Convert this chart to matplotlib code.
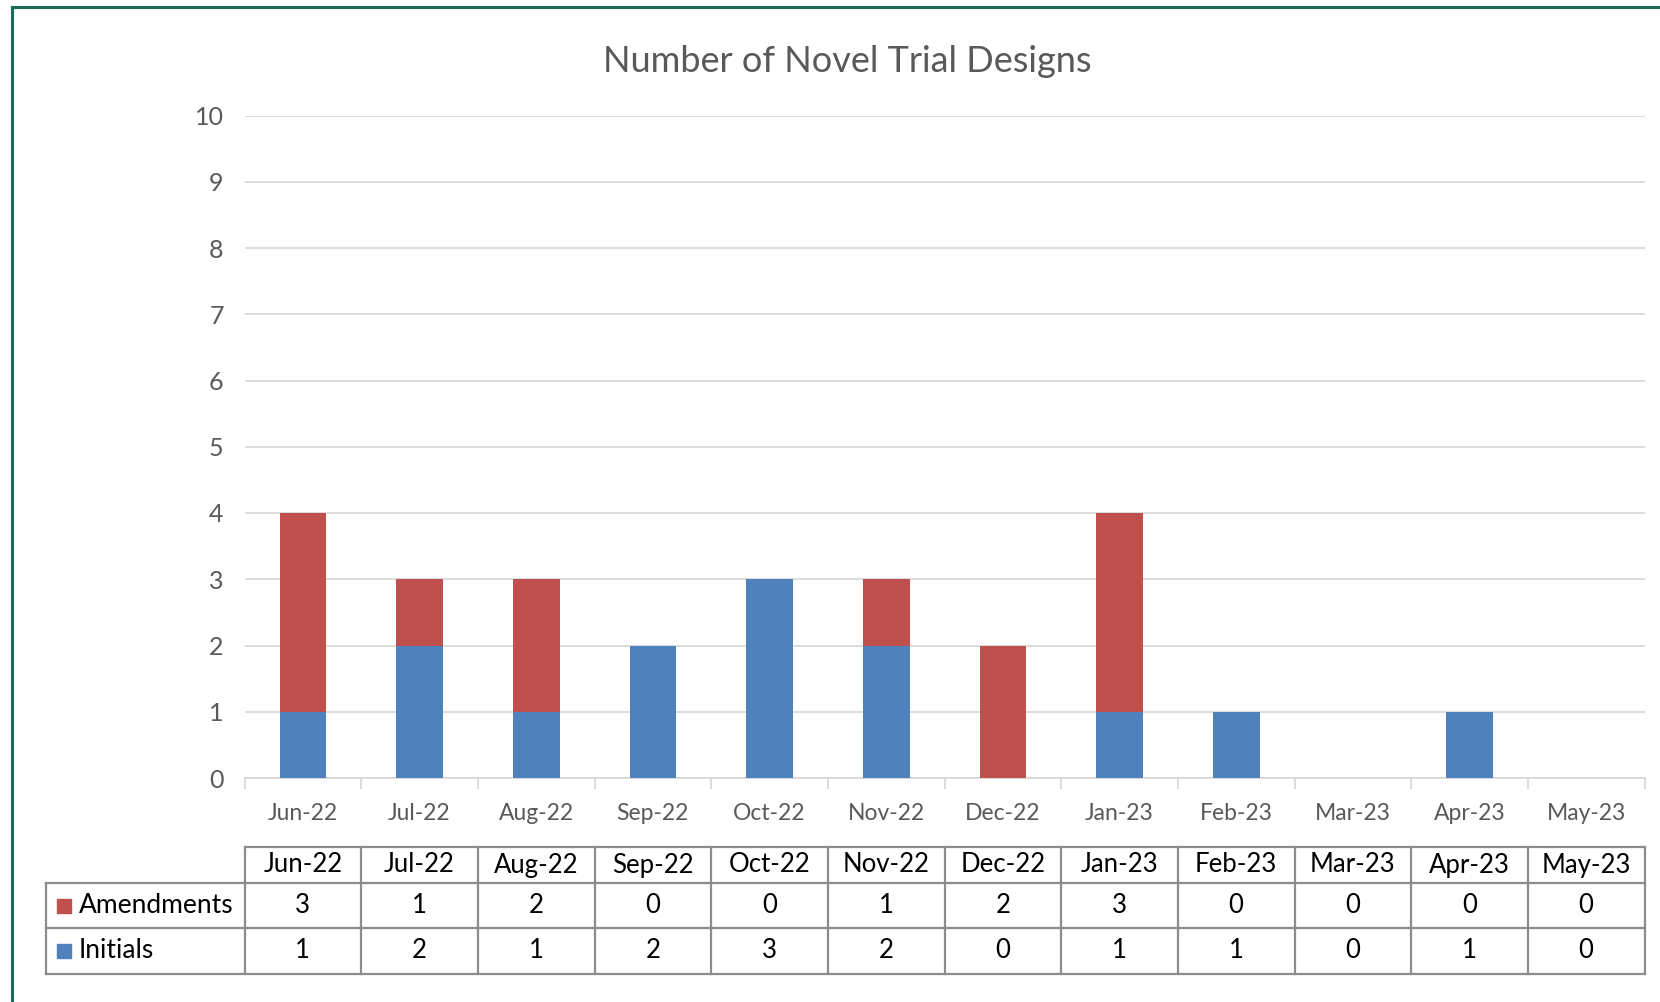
import numpy as np
import matplotlib.pyplot as plt
from matplotlib.lines import Line2D
from matplotlib.patches import Rectangle
import matplotlib.transforms as mtransforms

months = ["Jun-22", "Jul-22", "Aug-22", "Sep-22", "Oct-22", "Nov-22",
          "Dec-22", "Jan-23", "Feb-23", "Mar-23", "Apr-23", "May-23"]
initials = [1, 2, 1, 2, 3, 2, 0, 1, 1, 0, 1, 0]
amendments = [3, 1, 2, 0, 0, 1, 2, 3, 0, 0, 0, 0]
series_names = ["Amendments", "Initials"]

TITLE = "Number of Novel Trial Designs"
RED = "#C0504D"
BLUE = "#4F81BD"
GRID = "#D9D9D9"
TEXT_GREY = "#595959"
TABLE_LINE = "#8C8C8C"
FRAME = "#1B6B58"

plt.rcParams["font.family"] = ["Lato", "DejaVu Sans"]

W, H = 1660, 1002
fig = plt.figure(figsize=(W / 100, H / 100), dpi=100)
fig.patch.set_facecolor("white")


def fx(px):
    return px / W


def fy(py):
    # pixel y from top -> figure fraction
    return 1 - py / H


ax_left, ax_right = 244.5, 1644.5
ax_top, ax_bottom = 115.5, 778
ax = fig.add_axes([fx(ax_left), fy(ax_bottom), fx(ax_right - ax_left), fy(ax_top) - fy(ax_bottom)])

x = np.arange(len(months))
ax.bar(x, initials, width=0.4, color=BLUE, zorder=3)
ax.bar(x, amendments, width=0.4, bottom=initials, color=RED, zorder=3)

ax.set_xlim(-0.5, len(months) - 0.5)
ax.set_ylim(0, 10)
ax.set_yticks(range(0, 11))
ax.yaxis.grid(True, color=GRID, lw=1.3, zorder=0)
ax.set_axisbelow(True)
for side in ["left", "right", "top"]:
    ax.spines[side].set_visible(False)
ax.spines["bottom"].set_color(GRID)
ax.spines["bottom"].set_linewidth(1.3)
ax.tick_params(axis="y", length=0, pad=15, labelsize=18, labelcolor=TEXT_GREY)
ax.set_xticks(x)
ax.set_xticklabels(months)
ax.tick_params(axis="x", length=0, pad=18, labelsize=16.5, labelcolor=TEXT_GREY)
# category separator ticks
ax.set_xticks(np.arange(len(months) + 1) - 0.5, minor=True)
ax.tick_params(axis="x", which="minor", length=8, width=1.3, color=GRID, direction="out")

fig.text(fx(847), fy(61), TITLE, ha="center", va="center", fontsize=26, color=TEXT_GREY)

# data table under the chart
trans = mtransforms.blended_transform_factory(ax.transData, fig.transFigure)
row_edges = [847, 883, 928, 974]
label_left = 45.7
lw = 1.6

rows = [amendments, initials]
colors = [RED, BLUE]

# horizontal lines
fig.add_artist(Line2D([fx(ax_left), fx(ax_right)], [fy(row_edges[0])] * 2, color=TABLE_LINE, lw=lw))
for ry in row_edges[1:]:
    fig.add_artist(Line2D([fx(label_left), fx(ax_right)], [fy(ry)] * 2, color=TABLE_LINE, lw=lw))
# vertical lines
fig.add_artist(Line2D([fx(label_left)] * 2, [fy(row_edges[1]), fy(row_edges[-1])], color=TABLE_LINE, lw=lw))
for b in np.arange(len(months) + 1) - 0.5:
    fig.add_artist(Line2D([b, b], [fy(row_edges[0]), fy(row_edges[-1])], color=TABLE_LINE, lw=lw,
                          transform=trans))

# header row
hy = fy((row_edges[0] + row_edges[1]) / 2)
for i, m in enumerate(months):
    fig.text(i, hy, m, transform=trans, ha="center", va="center", fontsize=18.5, color="black")

for r, (name, vals, c) in enumerate(zip(series_names, rows, colors)):
    cy = (row_edges[r + 1] + row_edges[r + 2]) / 2
    fig.add_artist(Rectangle((fx(57), fy(cy + 7)), fx(14), fy(0) - fy(14), color=c,
                             transform=fig.transFigure))
    fig.text(fx(79), fy(cy), name, ha="left", va="center", fontsize=19, color="black")
    for i, v in enumerate(vals):
        fig.text(i, fy(cy), str(v), transform=trans, ha="center", va="center", fontsize=18.5, color="black")

# outer chart frame (cropped at right and bottom)
fig.add_artist(Line2D([fx(12), fx(12)], [fy(7), 0], color=FRAME, lw=2.2))
fig.add_artist(Line2D([fx(12), 1], [fy(7), fy(7)], color=FRAME, lw=2.2))

fig.savefig("out.png", dpi=100, facecolor="white")
